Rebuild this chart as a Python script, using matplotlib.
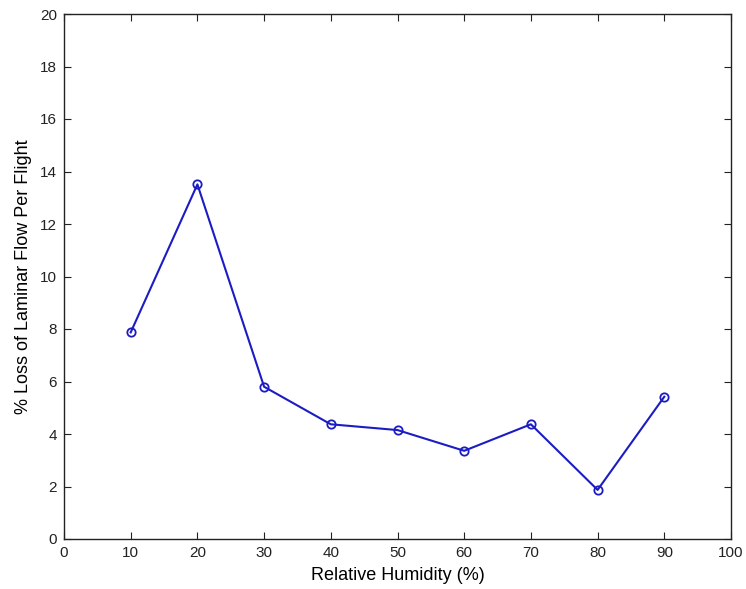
import matplotlib
matplotlib.use("Agg")
import matplotlib.pyplot as plt

humidity = [10, 20, 30, 40, 50, 60, 70, 80, 90]
loss_pct = [7.87, 13.51, 5.80, 4.37, 4.15, 3.36, 4.37, 1.87, 5.42]
x_ticks = list(range(0, 101, 10))
y_ticks = list(range(0, 21, 2))

plt.rcParams['font.family'] = ['Liberation Sans', 'DejaVu Sans']

fig = plt.figure(figsize=(7.46, 5.89), dpi=100)
ax = fig.add_axes([64 / 746, 1 - 539 / 589, (731 - 64) / 746, (539 - 14) / 589])

ax.plot(humidity, loss_pct, color='#1c1cc4', linewidth=1.5, marker='o',
        markersize=6, markerfacecolor='none', markeredgewidth=1.3)

ax.set_xlim(0, 100)
ax.set_ylim(0, 20)
ax.set_xticks(x_ticks)
ax.set_yticks(y_ticks)
ax.tick_params(direction='in', top=True, right=True, length=5, width=0.8,
               labelsize=11, colors='#222222', pad=5)
for s in ax.spines.values():
    s.set_linewidth(1.0)
    s.set_color('#222222')

ax.set_xlabel('Relative Humidity (%)', fontsize=13, labelpad=5)
ax.set_ylabel('% Loss of Laminar Flow Per Flight', fontsize=13, labelpad=6)

fig.savefig('out.png', dpi=100)
